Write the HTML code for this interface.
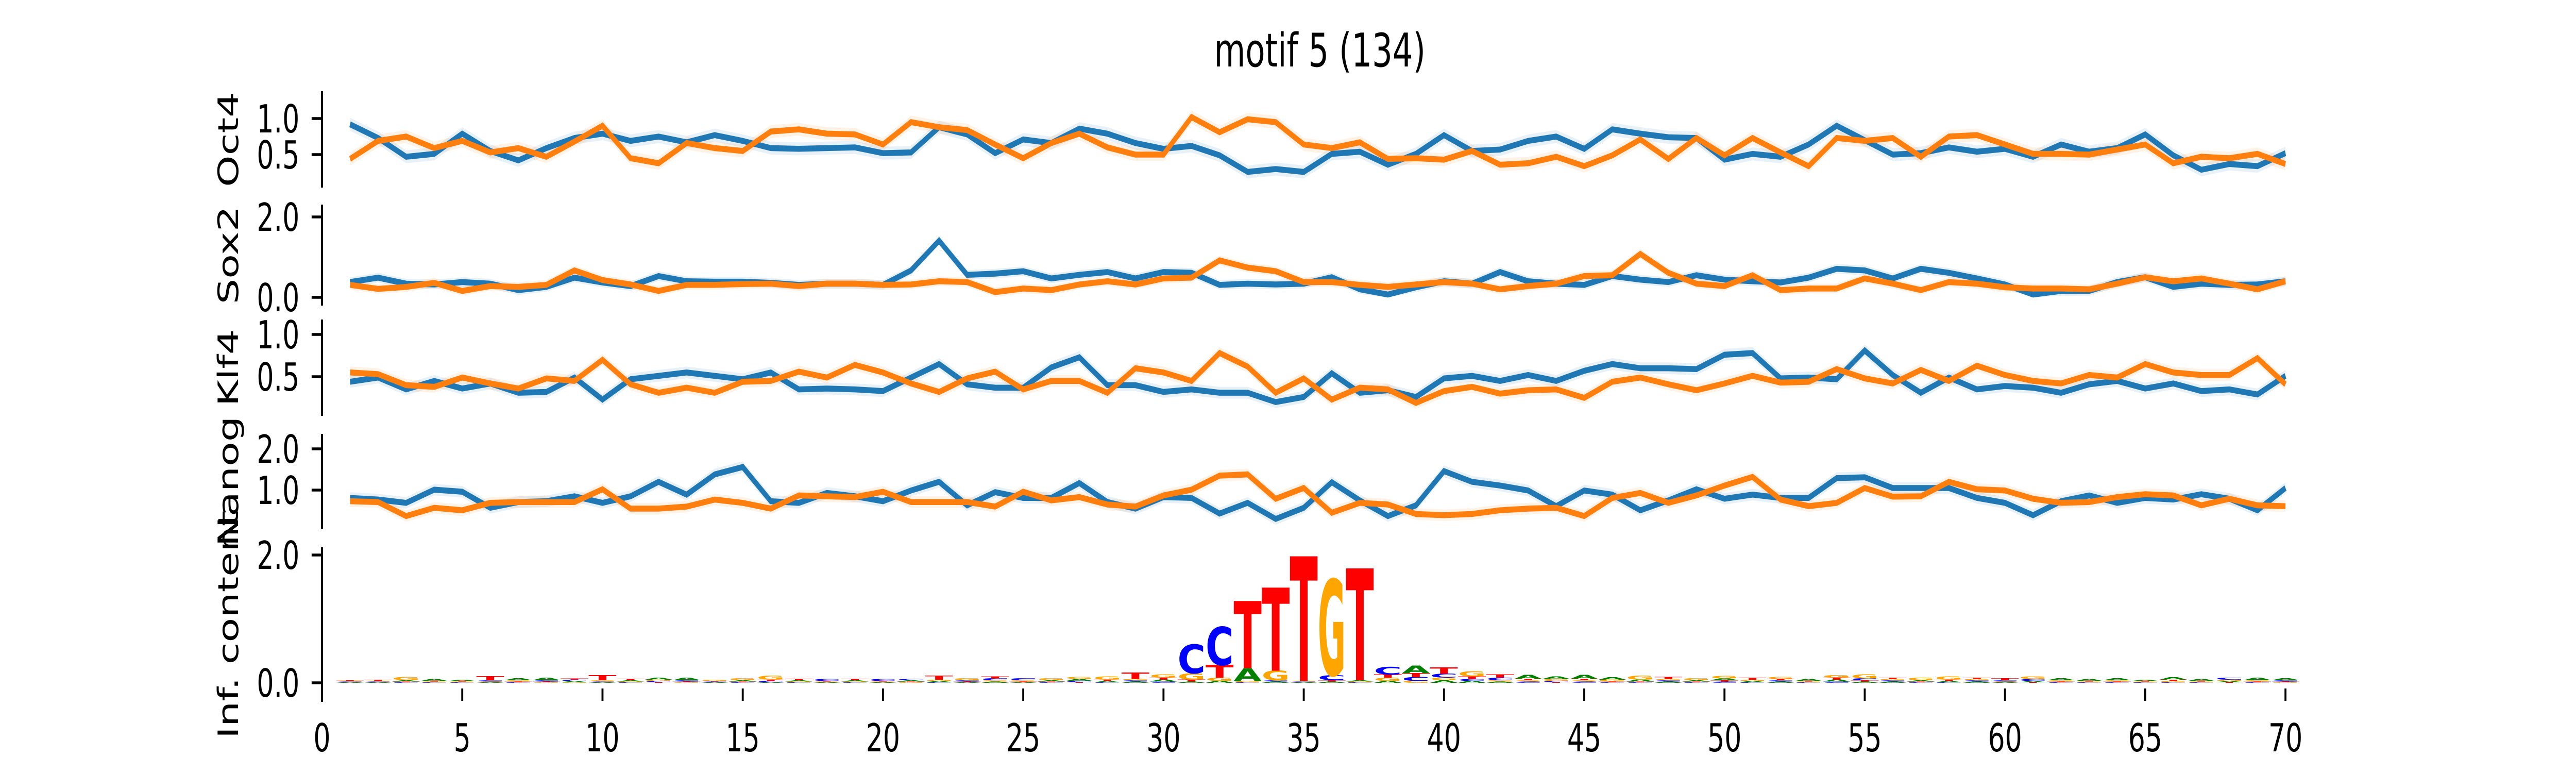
<!DOCTYPE html>
<html><head><meta charset="utf-8"><style>
html,body{margin:0;padding:0;background:#fff;width:100%;height:100%;overflow:hidden}
svg{display:block;width:100vw;height:100vh}
text{font-family:"DejaVu Sans","Liberation Sans",sans-serif}
</style></head>
<body>
<svg id="chart" viewBox="0 0 7200 1500" preserveAspectRatio="none" xmlns="http://www.w3.org/2000/svg">
<rect width="7200" height="1500" fill="#fff"/>
<text x="3689" y="129" font-size="90" text-anchor="middle">motif 5 (134)</text>
</svg>
<script>
const oct4Blue=[0.92,0.73,0.47,0.51,0.79,0.55,0.42,0.59,0.73,0.79,0.69,0.75,0.67,0.77,0.69,0.59,0.58,0.59,0.60,0.52,0.53,0.88,0.78,0.52,0.71,0.66,0.86,0.79,0.66,0.58,0.62,0.49,0.26,0.30,0.26,0.51,0.54,0.36,0.51,0.77,0.55,0.57,0.69,0.75,0.58,0.85,0.79,0.74,0.73,0.43,0.51,0.47,0.64,0.90,0.70,0.50,0.52,0.60,0.54,0.58,0.47,0.64,0.54,0.59,0.78,0.49,0.29,0.37,0.34,0.52];
const oct4Orange=[0.44,0.69,0.75,0.59,0.69,0.53,0.59,0.47,0.68,0.90,0.45,0.38,0.66,0.59,0.55,0.82,0.85,0.79,0.78,0.64,0.95,0.88,0.84,0.64,0.45,0.66,0.79,0.60,0.50,0.50,1.02,0.81,0.99,0.95,0.64,0.59,0.67,0.44,0.45,0.43,0.55,0.36,0.38,0.47,0.34,0.49,0.71,0.44,0.73,0.49,0.73,0.53,0.34,0.73,0.69,0.73,0.47,0.75,0.77,0.64,0.51,0.51,0.50,0.57,0.64,0.38,0.47,0.45,0.51,0.37];
const sox2Blue=[0.38,0.49,0.34,0.32,0.38,0.34,0.18,0.26,0.49,0.37,0.28,0.53,0.40,0.39,0.39,0.36,0.31,0.34,0.34,0.31,0.67,1.41,0.56,0.59,0.65,0.47,0.56,0.63,0.47,0.63,0.61,0.31,0.34,0.32,0.34,0.50,0.20,0.07,0.25,0.40,0.34,0.63,0.40,0.34,0.31,0.53,0.44,0.38,0.55,0.44,0.40,0.37,0.49,0.71,0.67,0.47,0.71,0.61,0.47,0.32,0.07,0.16,0.16,0.38,0.50,0.26,0.34,0.31,0.32,0.40];
const sox2Orange=[0.31,0.21,0.26,0.36,0.16,0.28,0.26,0.31,0.67,0.43,0.32,0.16,0.31,0.31,0.33,0.34,0.28,0.34,0.34,0.31,0.32,0.40,0.38,0.13,0.22,0.18,0.32,0.40,0.32,0.47,0.49,0.92,0.74,0.65,0.38,0.38,0.31,0.26,0.32,0.38,0.34,0.20,0.28,0.34,0.53,0.55,1.08,0.61,0.34,0.28,0.55,0.18,0.22,0.22,0.47,0.34,0.18,0.38,0.34,0.25,0.22,0.22,0.20,0.34,0.50,0.40,0.47,0.34,0.20,0.40];
const klf4Blue=[0.44,0.49,0.35,0.45,0.36,0.42,0.31,0.32,0.49,0.23,0.47,0.51,0.55,0.51,0.47,0.55,0.35,0.36,0.35,0.33,0.49,0.65,0.41,0.37,0.37,0.61,0.73,0.40,0.40,0.32,0.35,0.31,0.31,0.20,0.26,0.54,0.31,0.34,0.26,0.48,0.51,0.45,0.52,0.45,0.57,0.65,0.60,0.60,0.59,0.76,0.78,0.48,0.49,0.47,0.81,0.52,0.31,0.49,0.35,0.39,0.37,0.31,0.41,0.45,0.36,0.42,0.33,0.35,0.29,0.51];
const klf4Orange=[0.55,0.53,0.40,0.38,0.49,0.42,0.36,0.48,0.45,0.70,0.41,0.31,0.37,0.31,0.44,0.45,0.56,0.49,0.64,0.55,0.42,0.32,0.48,0.56,0.35,0.45,0.45,0.31,0.60,0.55,0.45,0.78,0.62,0.31,0.48,0.23,0.37,0.35,0.19,0.33,0.38,0.30,0.34,0.35,0.25,0.44,0.49,0.41,0.34,0.42,0.51,0.43,0.44,0.59,0.48,0.42,0.58,0.45,0.63,0.52,0.45,0.42,0.52,0.49,0.65,0.55,0.52,0.52,0.72,0.41];
const nanogBlue=[0.81,0.77,0.69,1.01,0.96,0.57,0.71,0.73,0.85,0.69,0.85,1.20,0.89,1.38,1.56,0.73,0.69,0.93,0.85,0.73,0.99,1.20,0.63,0.95,0.81,0.81,1.17,0.71,0.55,0.83,0.81,0.43,0.69,0.30,0.57,1.19,0.75,0.37,0.63,1.46,1.20,1.11,0.99,0.61,0.99,0.89,0.51,0.75,1.02,0.79,0.89,0.81,0.81,1.29,1.31,1.05,1.05,1.05,0.81,0.69,0.39,0.73,0.87,0.69,0.81,0.77,0.90,0.79,0.51,1.05];
const nanogOrange=[0.73,0.71,0.37,0.57,0.51,0.69,0.71,0.71,0.71,1.02,0.55,0.55,0.60,0.77,0.69,0.55,0.87,0.85,0.83,0.96,0.71,0.71,0.71,0.60,0.96,0.75,0.83,0.65,0.60,0.87,1.01,1.35,1.38,0.79,1.05,0.45,0.69,0.65,0.42,0.39,0.42,0.51,0.55,0.57,0.37,0.81,0.93,0.69,0.87,1.11,1.32,0.77,0.61,0.69,1.05,0.84,0.85,1.20,1.02,0.99,0.79,0.69,0.71,0.83,0.90,0.87,0.63,0.79,0.63,0.61];
const logoA=[0.01,0.01,0.02,0.03,0.02,0.01,0.03,0.04,0.02,0.01,0.02,0.03,0.04,0.01,0.02,0.01,0.02,0.01,0.02,0.01,0.02,0.02,0.01,0.02,0.01,0.02,0.03,0.02,0.02,0.03,0.02,0.03,0.20,0.02,0.01,0.02,0.02,0.03,0.12,0.04,0.03,0.02,0.06,0.04,0.06,0.04,0.03,0.02,0.02,0.03,0.02,0.02,0.03,0.03,0.02,0.02,0.02,0.02,0.02,0.01,0.02,0.03,0.03,0.03,0.02,0.04,0.03,0.02,0.04,0.03];
const logoC=[0.01,0.01,0.01,0.01,0.01,0.02,0.01,0.02,0.02,0.01,0.01,0.02,0.02,0.01,0.01,0.02,0.01,0.03,0.01,0.03,0.02,0.01,0.02,0.03,0.03,0.01,0.02,0.01,0.02,0.02,0.45,0.60,0.01,0.02,0.01,0.08,0.01,0.12,0.06,0.06,0.03,0.04,0.02,0.02,0.02,0.01,0.01,0.02,0.01,0.02,0.01,0.02,0.01,0.02,0.03,0.02,0.01,0.01,0.02,0.02,0.03,0.01,0.01,0.01,0.01,0.01,0.01,0.03,0.01,0.02];
const logoG=[0.01,0.01,0.05,0.01,0.01,0.01,0.02,0.01,0.01,0.02,0.01,0.02,0.01,0.02,0.03,0.06,0.01,0.01,0.01,0.01,0.01,0.02,0.03,0.02,0.02,0.03,0.03,0.05,0.02,0.05,0.10,0.05,0.02,0.15,0.01,1.50,0.01,0.05,0.03,0.04,0.08,0.02,0.02,0.03,0.02,0.03,0.06,0.02,0.03,0.04,0.02,0.03,0.01,0.04,0.06,0.02,0.04,0.05,0.02,0.01,0.04,0.02,0.01,0.02,0.01,0.02,0.01,0.02,0.02,0.01];
const logoT=[0.01,0.02,0.01,0.01,0.01,0.06,0.01,0.01,0.02,0.08,0.02,0.01,0.01,0.01,0.01,0.02,0.02,0.01,0.02,0.01,0.01,0.06,0.01,0.03,0.01,0.01,0.01,0.02,0.10,0.03,0.03,0.20,1.05,1.30,1.95,0.02,1.75,0.05,0.06,0.10,0.04,0.05,0.02,0.01,0.02,0.01,0.01,0.03,0.01,0.02,0.03,0.02,0.01,0.03,0.02,0.02,0.01,0.02,0.02,0.03,0.01,0.01,0.01,0.01,0.01,0.02,0.01,0.01,0.01,0.01];
const xTicks=[0,5,10,15,20,25,30,35,40,45,50,55,60,65,70];

const NS="http://www.w3.org/2000/svg";
const svg=document.getElementById('chart');
function mk(tag,attrs,parent){const e=document.createElementNS(NS,tag);for(const k in attrs)e.setAttribute(k,attrs[k]);(parent||svg).appendChild(e);return e;}
const X=v=>900+v*78.4;
const BLUE='#1f77b4',ORANGE='#ff7f0e';

const panels=[
 {name:'oct4',label:'Oct4',zero:370,ppu:140,top:177,bottom:364,ticks:[0.5,1.0],band:0.09,s:[oct4Blue,oct4Orange]},
 {name:'sox2',label:'Sox2',zero:577,ppu:78,top:397,bottom:593,ticks:[0.0,2.0],band:0.12,s:[sox2Blue,sox2Orange]},
 {name:'klf4',label:'Klf4',zero:813,ppu:164,top:620,bottom:807,ticks:[0.5,1.0],band:0.07,s:[klf4Blue,klf4Orange]},
 {name:'nanog',label:'Nanog',zero:1031,ppu:80,top:842,bottom:1026,ticks:[1.0,2.0],band:0.14,s:[nanogBlue,nanogOrange]}
];

function yAxis(p,g){
  const sp=mk('line',{x1:900,x2:900,y1:p.top,y2:p.bottom,stroke:'#000','stroke-width':5.5},g);
  
  
  p.ticks.forEach(t=>{
    const y=p.zero-t*p.ppu;
    const tk=mk('line',{x1:871,x2:900,y1:y,y2:y,stroke:'#000','stroke-width':5.5},g);
    
    
    const tl=mk('text',{x:837,y:y+27,'font-size':75,'text-anchor':'end'},g);
    
    
    tl.textContent=t.toFixed(1);
  });
  const cy=(p.top+p.bottom)/2;
  const lb=mk('text',{x:0,y:0,'font-size':78,'text-anchor':'middle',transform:`translate(665,${cy}) rotate(-90)`},g);
  
  
  lb.textContent=p.label;
}

panels.forEach(p=>{
  const g=mk('g',{});
  
  
  const Y=v=>p.zero-v*p.ppu;
  p.s.forEach((arr,si)=>{
    const col=si?ORANGE:BLUE;
    let up='',dn='';
    arr.forEach((v,i)=>{up+=(i?'L':'M')+X(i+1)+','+Y(v+p.band);});
    for(let i=arr.length-1;i>=0;i--)dn+='L'+X(i+1)+','+Y(Math.max(arr[i]-p.band,0));
    const band=mk('path',{d:up+dn+'Z',fill:col,'fill-opacity':0.1,stroke:'none'},g);
    
    
  });
  p.s.forEach((arr,si)=>{
    const col=si?ORANGE:BLUE;
    const pts=arr.map((v,i)=>X(i+1)+','+Y(v)).join(' ');
    const ln=mk('polyline',{points:pts,fill:'none',stroke:col,'stroke-width':11.5,'stroke-linejoin':'miter','stroke-miterlimit':4},g);
    
    
  });
  yAxis(p,g);
});

const logo={name:'logo',label:'Inf. content',zero:1325,ppu:124,top:1062,bottom:1362,ticks:[0.0,2.0]};
const lg=mk('g',{});


const LCOL={A:'green',C:'blue',G:'orange',T:'red'};
const lettersData={A:logoA,C:logoC,G:logoG,T:logoT};
for(let i=0;i<70;i++){
  const stack=['A','C','G','T'].map(L=>[L,lettersData[L][i]]).sort((a,b)=>a[1]-b[1]);
  let base=0;
  stack.forEach(([L,h])=>{
    const x0=X(i+1)-0.5*78.4, w=78.4;
    const yb=logo.zero-base*logo.ppu;
    const hp=h*logo.ppu;
    const sy=hp/72.9;
    const t=mk('text',{x:x0,y:0,'font-size':100,'font-weight':'bold',fill:LCOL[L],textLength:w,lengthAdjust:'spacingAndGlyphs',transform:`translate(0,${yb}) scale(1,${sy})`},lg);
    
    
    t.textContent=L;
    base+=h;
  });
}
yAxis(logo,lg);
xTicks.forEach(v=>{
  const tk=mk('line',{x1:X(v),x2:X(v),y1:1336,y2:1360,stroke:'#000','stroke-width':5.5},lg);
  
  
  const tl=mk('text',{x:X(v),y:1458,'font-size':75,'text-anchor':'middle'},lg);
  
  
  tl.textContent=String(v);
});
</script>
</body></html>
